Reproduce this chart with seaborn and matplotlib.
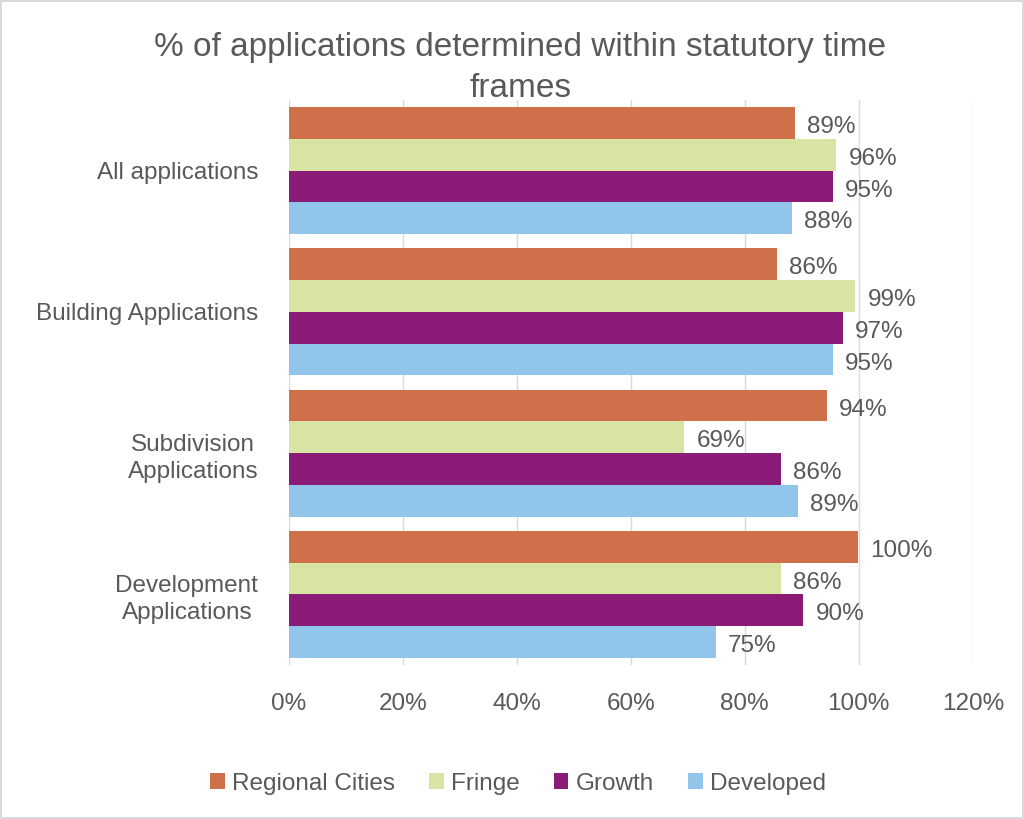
import pandas as pd
import matplotlib.pyplot as plt
import seaborn as sns

# chart data
kategoriler = ["All applications", "Building Applications",
               "Subdivision\nApplications", "Development\nApplications"]
seriler = ["Regional Cities", "Fringe", "Growth", "Developed"]
regional = [88.8, 85.6, 94.4, 99.8]
fringe = [96.0, 99.4, 69.4, 86.3]
growth = [95.4, 97.2, 86.3, 90.2]
developed = [88.2, 95.4, 89.3, 74.9]
renkler = ["#D0704A", "#D7E4A3", "#8A1C78", "#92C5EA"]

df = pd.DataFrame({
    "Kategori": kategoriler * 4,
    "Seri": sum([[s] * 4 for s in seriler], []),
    "Deger": regional + fringe + growth + developed,
})

sns.set_style("white")
plt.rcParams['font.family'] = ['Liberation Sans', 'DejaVu Sans']
gri = "#595959"
yazi = 17.5

fig = plt.figure(figsize=(10.24, 8.19), dpi=100)
fig.patch.set_edgecolor("#D9D9D9")
fig.patch.set_linewidth(1.5)
ax = fig.add_axes([0.282, 0.188, 0.668, 0.69])

sns.barplot(data=df, y="Kategori", x="Deger", hue="Seri", order=kategoriler,
            hue_order=seriler, palette=renkler, orient="h", width=0.9,
            saturation=1, linewidth=0, ax=ax, legend=True)

for cont in ax.containers:
    etiketler = ax.bar_label(cont, labels=[f"{v:.0f}%" for v in cont.datavalues],
                             padding=9, fontsize=yazi, color=gri)
    for e in etiketler:
        e.xyann = (9, -3)  # Excel'deki gibi biraz aşağıda

ax.set_xlim(0, 120)
ax.set_ylim(3.5, -0.5)
ax.set_xticks(range(0, 121, 20))
ax.set_xticklabels([f"{t}%" for t in range(0, 121, 20)])
ax.set_yticks(range(len(kategoriler)))
ax.set_yticklabels(kategoriler, multialignment="center", linespacing=1.3)
ax.tick_params(axis="both", labelsize=yazi, colors=gri, length=0)
ax.tick_params(axis="x", pad=20)
ax.tick_params(axis="y", pad=22)
ax.set_ylabel("")
ax.set_xlabel("")
ax.grid(axis="x", color="#D9D9D9", linewidth=1)
ax.set_axisbelow(True)
for s in ax.spines.values():
    s.set_visible(False)

ax.legend(loc="center", bbox_to_anchor=(0.506, 0.043), bbox_transform=fig.transFigure,
          ncol=4, frameon=False, fontsize=yazi, handlelength=0.6, handleheight=0.6,
          handletextpad=0.3, columnspacing=1.4, labelcolor=gri)

fig.text(0.508, 0.917, "% of applications determined within statutory time\nframes",
         ha="center", va="center", fontsize=24, color=gri, linespacing=1.4)

plt.savefig("out.png", dpi=100, edgecolor=fig.get_edgecolor())
